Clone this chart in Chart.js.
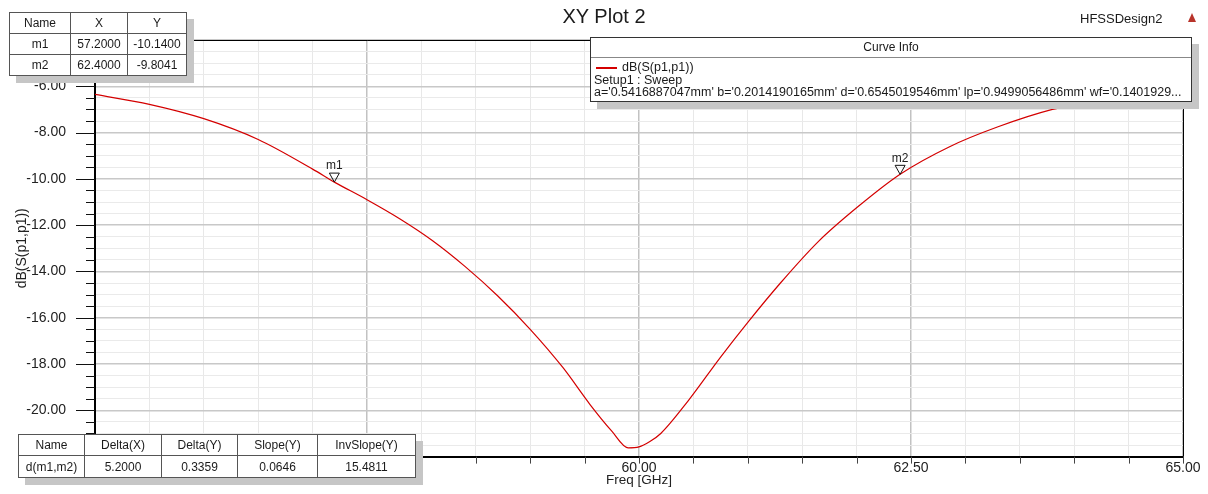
<!DOCTYPE html>
<html><head><meta charset="utf-8">
<script src="https://cdn.jsdelivr.net/npm/chart.js@4.4.0/dist/chart.umd.min.js"></script>
<style>
html,body{margin:0;padding:0;background:#fff;}
#wrap{position:relative;width:1208px;height:494px;overflow:hidden;font-family:"Liberation Sans",Arial,sans-serif;color:#1a1a1a;}
canvas{position:absolute;left:0;top:0;}
.tbl{position:absolute;border-collapse:collapse;table-layout:fixed;background:#fff;box-shadow:7px 7px 0 #c6c6c6;font-size:12px;border:1.5px solid #333;}
.tbl td{border:1px solid #555;text-align:center;padding:0;white-space:nowrap;overflow:hidden;}
#title{position:absolute;left:0;width:1208px;top:5px;text-align:center;font-size:20px;}
#design{position:absolute;left:1080px;top:11px;font-size:13px;}
#logo{position:absolute;left:1188px;top:13px;width:0;height:0;border-left:4.5px solid transparent;border-right:4.5px solid transparent;border-bottom:9px solid #b8332a;}
#info{position:absolute;left:590px;top:37px;width:600px;height:63px;background:#fff;border:1px solid #333;box-shadow:7px 7px 0 #c6c6c6;font-size:12.5px;}
#info .hd{height:19px;line-height:19px;text-align:center;border-bottom:1px solid #888;font-size:12px;}
#info .ln{position:absolute;left:3px;white-space:nowrap;}
#info .sw{position:absolute;left:5px;top:29px;width:21px;height:2px;background:#d40000;}
</style></head>
<body><div id="wrap">
<canvas id="c" width="1208" height="494"></canvas>
<div id="title">XY Plot 2</div>
<div id="design">HFSSDesign2</div>
<div id="logo"></div>
<div id="info">
  <div class="hd">Curve Info</div>
  <div class="sw"></div>
  <div class="ln" style="left:31px;top:22px;">dB(S(p1,p1))</div>
  <div class="ln" style="top:35px;">Setup1 : Sweep</div>
  <div class="ln" style="top:47px;">a='0.5416887047mm' b='0.2014190165mm' d='0.6545019546mm' lp='0.9499056486mm' wf='0.1401929...</div>
</div>
<table class="tbl" id="mt" style="left:9px;top:12px;width:177px;height:62px;">
  <colgroup><col style="width:61px"><col style="width:57px"><col style="width:59px"></colgroup>
  <tbody id="mtb"></tbody>
</table>
<table class="tbl" id="dt" style="left:18px;top:434px;width:397px;height:43px;">
  <colgroup><col style="width:66px"><col style="width:77px"><col style="width:76px"><col style="width:80px"><col style="width:98px"></colgroup>
  <tbody id="dtb"></tbody>
</table>
</div>
<script>
// ---- data ----
const freqGHz = [55.0, 55.5, 56.0, 56.5, 57.0, 57.2, 57.5, 57.8, 58.1, 58.4, 58.7, 59.0, 59.3, 59.55, 59.75, 59.9, 60.0, 60.1, 60.2, 60.45, 60.75, 61.0, 61.3, 61.65, 62.0, 62.4, 62.85, 63.3, 63.8, 64.1, 64.5, 65.0];
const dbS11 = [-6.35, -6.78, -7.40, -8.30, -9.58, -10.14, -10.90, -11.72, -12.66, -13.78, -15.05, -16.50, -18.15, -19.75, -20.90, -21.62, -21.58, -21.35, -21.0, -19.6, -17.7, -16.2, -14.5, -12.7, -11.25, -9.80, -8.62, -7.75, -7.0, -6.72, -6.3, -5.9];
const markerNames = ['m1', 'm2'];
const markerX = [57.2, 62.4];
const markerY = [-10.14, -9.8041];
const markerXText = ['57.2000', '62.4000'];
const markerYText = ['-10.1400', '-9.8041'];
const deltaHeaders = ['Name', 'Delta(X)', 'Delta(Y)', 'Slope(Y)', 'InvSlope(Y)'];
const deltaValues = ['d(m1,m2)', '5.2000', '0.3359', '0.0646', '15.4811'];
const xRange = [55, 65];
const yRange = [-22, -4];

// ---- tables ----
const mtb = document.getElementById('mtb');
let html = '<tr style="height:21px"><td>Name</td><td>X</td><td>Y</td></tr>';
markerNames.forEach((n, i) => { html += '<tr style="height:21px"><td>' + n + '</td><td>' + markerXText[i] + '</td><td>' + markerYText[i] + '</td></tr>'; });
mtb.innerHTML = html;
document.getElementById('dtb').innerHTML =
  '<tr style="height:21px">' + deltaHeaders.map(h => '<td>' + h + '</td>').join('') + '</tr>' +
  '<tr style="height:22px">' + deltaValues.map(h => '<td>' + h + '</td>').join('') + '</tr>';

// ---- chart ----
const near = (v, s) => Math.abs(v / s - Math.round(v / s)) < 1e-6;
const font = { family: '"Liberation Sans", Arial, sans-serif', size: 14 };

const extras = {
  id: 'extras',
  afterDatasetsDraw(chart) {
    const { ctx, chartArea: a, scales: { x, y } } = chart;
    ctx.save();
    ctx.strokeStyle = '#000';
    ctx.lineWidth = 1;
    ctx.beginPath();
    ctx.moveTo(a.left, a.top + 0.5); ctx.lineTo(a.right + 0.5, a.top + 0.5); ctx.lineTo(a.right + 0.5, a.bottom);
    ctx.stroke();
    ctx.strokeStyle = '#111';
    y.ticks.forEach(t => {
      const py = Math.round(y.getPixelForValue(t.value)) + 0.5;
      const len = near(t.value, 2) ? 19 : 9;
      ctx.beginPath(); ctx.moveTo(a.left, py); ctx.lineTo(a.left - len, py); ctx.stroke();
    });
    ctx.strokeStyle = '#444';
    x.ticks.forEach(t => {
      const px = Math.round(x.getPixelForValue(t.value)) + 0.5;
      ctx.beginPath(); ctx.moveTo(px, a.bottom); ctx.lineTo(px, a.bottom + 7); ctx.stroke();
    });
    // markers
    ctx.strokeStyle = '#111';
    ctx.fillStyle = '#222';
    ctx.font = '12px "Liberation Sans", Arial, sans-serif';
    ctx.textAlign = 'center';
    ctx.textBaseline = 'bottom';
    markerNames.forEach((n, i) => {
      const px = x.getPixelForValue(markerX[i]);
      const py = y.getPixelForValue(markerY[i]);
      ctx.beginPath();
      ctx.moveTo(px, py); ctx.lineTo(px - 5, py - 9); ctx.lineTo(px + 5, py - 9); ctx.closePath();
      ctx.stroke();
      ctx.fillText(n, px, py - 10);
    });
    ctx.restore();
  }
};

new Chart(document.getElementById('c'), {
  type: 'line',
  data: {
    datasets: [{
      data: freqGHz.map((f, i) => ({ x: f, y: dbS11[i] })),
      borderColor: '#d40000',
      borderWidth: 1.2,
      pointRadius: 0,
      cubicInterpolationMode: 'monotone',
      fill: false
    }]
  },
  options: {
    responsive: false,
    devicePixelRatio: 1,
    animation: false,
    layout: { padding: { left: 0, right: 25, top: 40, bottom: 0 } },
    plugins: { legend: { display: false }, tooltip: { enabled: false } },
    scales: {
      x: {
        type: 'linear', min: xRange[0], max: xRange[1],
        afterFit: s => { s.height = 37; },
        ticks: {
          stepSize: 0.5, autoSkip: false, maxRotation: 0, padding: 3,
          color: '#222', font,
          callback: v => near(v, 2.5) ? v.toFixed(2) : ''
        },
        grid: {
          drawTicks: false,
          color: c => near(c.tick.value, 2.5) ? '#c2c2c2' : '#e8e8e8',
          lineWidth: c => near(c.tick.value, 2.5) ? 1.5 : 1
        },
        border: { display: true, color: '#000', width: 2 },
        title: { display: true, text: 'Freq [GHz]', color: '#222', font: { family: font.family, size: 13.5 }, padding: { top: 0, bottom: 5 } }
      },
      y: {
        min: yRange[0], max: yRange[1],
        afterFit: s => { s.width = 95; },
        ticks: {
          stepSize: 0.5, autoSkip: false, padding: 29,
          color: '#222', font,
          callback: v => near(v, 2) ? v.toFixed(2) : ''
        },
        grid: {
          drawTicks: false,
          color: c => near(c.tick.value, 2) ? '#c8c8c8' : '#eaeaea',
          lineWidth: c => near(c.tick.value, 2) ? 1.5 : 1
        },
        border: { display: true, color: '#000', width: 2 },
        title: { display: true, text: 'dB(S(p1,p1))', color: '#222', font: { family: font.family, size: 14 }, padding: { top: 14, bottom: 0 } }
      }
    }
  },
  plugins: [extras]
});
</script>
</body></html>
